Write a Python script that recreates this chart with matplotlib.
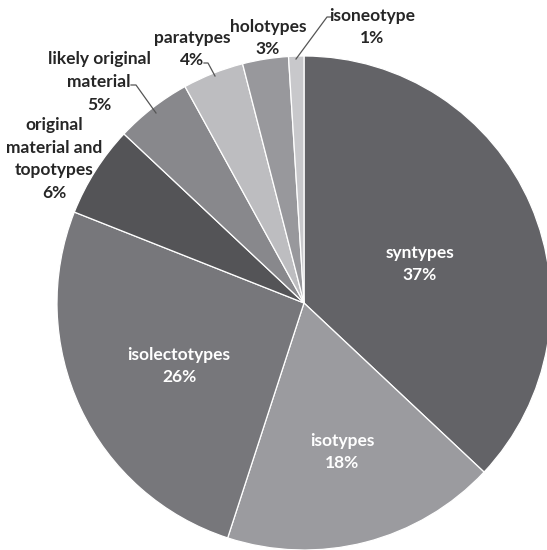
import matplotlib.pyplot as plt

# type status categories, percent of specimens
categories = ["syntypes", "isotypes", "isolectotypes",
              "original\nmaterial and\ntopotypes", "likely original\nmaterial",
              "paratypes", "holotypes", "isoneotype"]
shares = [37, 18, 26, 6, 5, 4, 3, 1]
colors = ["#636367", "#9b9b9f", "#77777b", "#545457",
          "#88888c", "#bdbdc0", "#98989c", "#c8c8cb"]

# label positions in pixels (x, y from top), inside labels are white
label_px = [(420, 264), (342, 452), (179, 366), (54, 159), (99, 82),
            (192, 49), (268, 38), (372, 27)]
inside = [True, True, True, False, False, False, False, False]

W, H = 547, 550
cx, cy, R = 304, 303, 247

fig = plt.figure(figsize=(W / 100, H / 100), dpi=100)
ax = fig.add_axes([0, 0, 1, 1])
ax.pie(shares, colors=colors, startangle=90, counterclock=False,
       wedgeprops=dict(edgecolor="white", linewidth=0.9))
ax.set_xlim(-cx / R, (W - cx) / R)
ax.set_ylim(-(H - cy) / R, cy / R)
ax.set_aspect("auto")
ax.axis("off")


def to_data(px, py):
    return (px - cx) / R, (cy - py) / R


for name, val, (px, py), ins in zip(categories, shares, label_px, inside):
    x, y = to_data(px, py)
    ax.text(x, y, f"{name}\n{val}%", ha="center", va="center",
            fontsize=12.5, fontweight="bold", family="Lato",
            color="white" if ins else "#262626", linespacing=1.52)

# leader lines
leaders = [
    [(296, 59), (327, 17), (331, 17)],   # isoneotype
    [(215, 76), (208, 63), (204, 63)],   # paratypes
    [(156, 113), (136, 85), (131, 85)],  # likely original material
]
for pts in leaders:
    xs, ys = zip(*[to_data(px, py) for px, py in pts])
    ax.plot(xs, ys, color="#555555", lw=0.9)

fig.savefig("out.png", dpi=100)
